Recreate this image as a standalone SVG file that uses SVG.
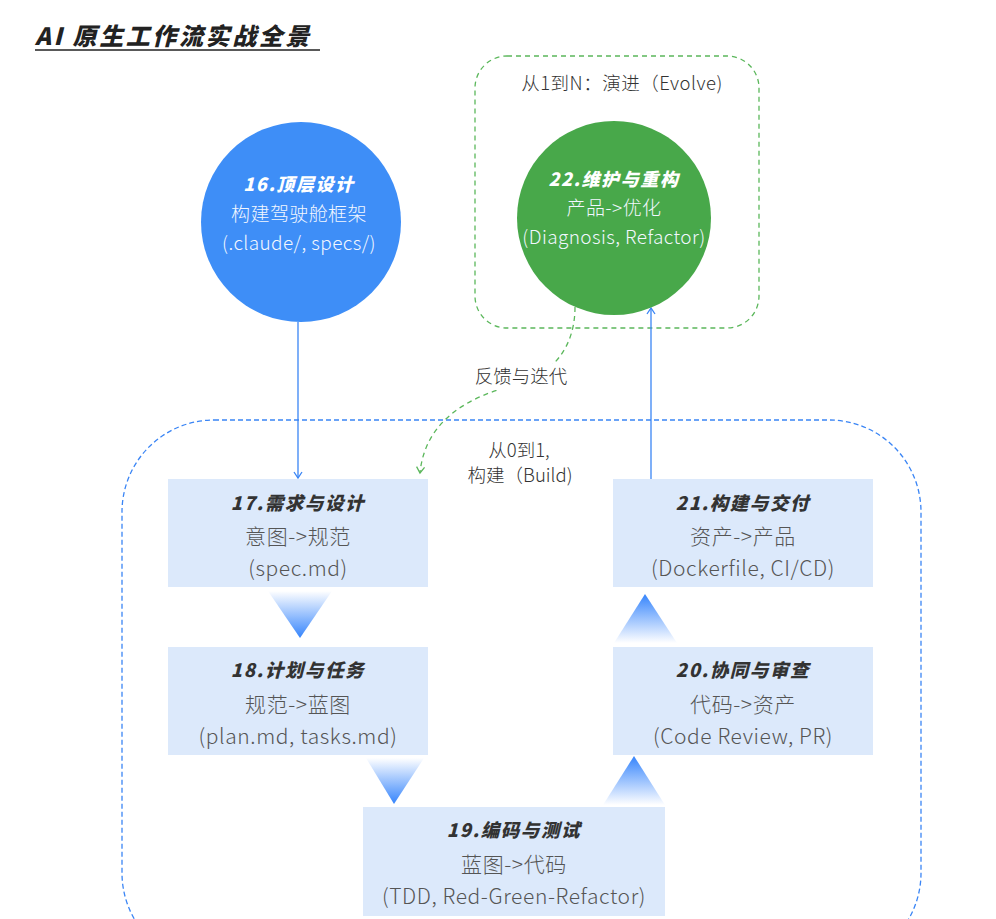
<svg xmlns="http://www.w3.org/2000/svg" width="996" height="919" viewBox="0 0 996 919">
<defs>
<style>
.box{fill:#dce9fb}
.ttl{font-family:"Noto Sans CJK SC","Noto Sans",sans-serif;font-weight:900;font-style:italic;font-size:18.5px;letter-spacing:1.6px;fill:#333;text-anchor:middle}
.ln{font-family:"Noto Sans CJK SC","Noto Sans",sans-serif;font-weight:300;font-size:21px;letter-spacing:0.6px;fill:#555;text-anchor:middle}
.ctl{font-family:"Noto Sans CJK SC","Noto Sans",sans-serif;font-weight:900;font-style:italic;font-size:18px;letter-spacing:1.6px;fill:#fff;text-anchor:middle}
.cln{font-family:"Noto Sans CJK SC","Noto Sans",sans-serif;font-weight:300;font-size:19px;letter-spacing:0.4px;fill:#f2f7ff;text-anchor:middle}
.lbl{font-family:"Noto Sans CJK SC","Noto Sans",sans-serif;font-weight:300;font-size:18.5px;fill:#333;text-anchor:middle}
.blue{stroke:#3a85f5;stroke-width:1.3;fill:none}
.grn{stroke:#5bb75b;stroke-width:1.3;fill:none;stroke-dasharray:5 4}
</style>
<linearGradient id="gDown" x1="0" y1="0" x2="0" y2="1">
<stop offset="0" stop-color="#3584fc" stop-opacity="0"/>
<stop offset="1" stop-color="#3584fc"/>
</linearGradient>
<linearGradient id="gUp" x1="0" y1="1" x2="0" y2="0">
<stop offset="0" stop-color="#3584fc" stop-opacity="0"/>
<stop offset="1" stop-color="#3584fc"/>
</linearGradient>
<marker id="aBlue" markerWidth="12" markerHeight="12" refX="8" refY="5" orient="auto" markerUnits="userSpaceOnUse">
<path d="M2,1 L8,5 L2,9" fill="none" stroke="#3a85f5" stroke-width="1.3"/>
</marker>
<marker id="aGrn" markerWidth="12" markerHeight="12" refX="8" refY="5" orient="auto" markerUnits="userSpaceOnUse">
<path d="M2,1 L8,5 L2,9" fill="none" stroke="#5bb75b" stroke-width="1.3"/>
</marker>
</defs>
<rect width="996" height="919" fill="#fff"/>

<g id="title">
<text x="35" y="45" font-family="'Noto Sans CJK SC','Noto Sans',sans-serif" font-weight="900" font-style="italic" font-size="24" letter-spacing="2.6" fill="#222">AI 原生工作流实战全景</text>
<line x1="35" y1="50" x2="320" y2="50" stroke="#222" stroke-width="1.5"/>
</g>

<g id="zones">
<rect id="zone-evolve" x="475" y="56" width="284" height="272" rx="32" fill="none" stroke="#5bb75b" stroke-width="1.3" stroke-dasharray="5 4"/>
<text class="lbl" x="622" y="90" font-size="19" letter-spacing="0.5">从1到N：演进（Evolve)</text>
<rect id="zone-build" x="122" y="420" width="799" height="545" rx="92" fill="none" stroke="#3a85f5" stroke-width="1.3" stroke-dasharray="5 3"/>
<text class="lbl" x="519" y="457" font-size="17.5">从0到1,</text>
<text class="lbl" x="520" y="482" font-size="17.5">构建（Build)</text>
</g>

<g id="connectors">
<line class="blue" x1="298" y1="322" x2="298" y2="478" marker-end="url(#aBlue)"/>
<line class="blue" x1="651" y1="479" x2="651" y2="308" marker-end="url(#aBlue)"/>
<path class="grn" d="M575,307 C575,340 560,370 520,384 C470,395 425,420 420,473" marker-end="url(#aGrn)"/>
<rect x="470" y="364" width="104" height="26" fill="#fff"/>
<text class="lbl" x="521" y="383">反馈与迭代</text>
<polygon points="268,591 332,591 300,638" fill="url(#gDown)"/>
<polygon points="366,758 424,758 394,804" fill="url(#gDown)"/>
<polygon points="603,805 665,805 634,756" fill="url(#gUp)"/>
<polygon points="614,643 677,643 645,594" fill="url(#gUp)"/>
</g>

<g id="n16">
<circle cx="301" cy="222" r="100" fill="#3e8ef7"/>
<text class="ctl" x="299" y="191">16.顶层设计</text>
<text class="cln" x="299" y="221">构建驾驶舱框架</text>
<text class="cln" x="299" y="250">(.claude/, specs/)</text>
</g>

<g id="n22">
<circle cx="614" cy="218" r="97" fill="#48a84a"/>
<text class="ctl" x="614" y="186">22.维护与重构</text>
<text class="cln" x="614" y="215">产品-&gt;优化</text>
<text class="cln" x="614" y="244">(Diagnosis, Refactor)</text>
</g>

<g id="n17">
<rect class="box" x="168" y="479" width="260" height="108"/>
<text class="ttl" x="298" y="510">17.需求与设计</text>
<text class="ln" x="298" y="544">意图-&gt;规范</text>
<text class="ln" x="298" y="576">(spec.md)</text>
</g>

<g id="n18">
<rect class="box" x="168" y="647" width="260" height="108"/>
<text class="ttl" x="298" y="677">18.计划与任务</text>
<text class="ln" x="298" y="712">规范-&gt;蓝图</text>
<text class="ln" x="298" y="744">(plan.md, tasks.md)</text>
</g>

<g id="n19">
<rect class="box" x="363" y="807" width="302" height="109"/>
<text class="ttl" x="514" y="837">19.编码与测试</text>
<text class="ln" x="514" y="872">蓝图-&gt;代码</text>
<text class="ln" x="514" y="904">(TDD, Red-Green-Refactor)</text>
</g>

<g id="n20">
<rect class="box" x="613" y="647" width="260" height="108"/>
<text class="ttl" x="743" y="677">20.协同与审查</text>
<text class="ln" x="743" y="712">代码-&gt;资产</text>
<text class="ln" x="743" y="744">(Code Review, PR)</text>
</g>

<g id="n21">
<rect class="box" x="613" y="479" width="260" height="108"/>
<text class="ttl" x="743" y="510">21.构建与交付</text>
<text class="ln" x="743" y="544">资产-&gt;产品</text>
<text class="ln" x="743" y="576">(Dockerfile, CI/CD)</text>
</g>
</svg>
